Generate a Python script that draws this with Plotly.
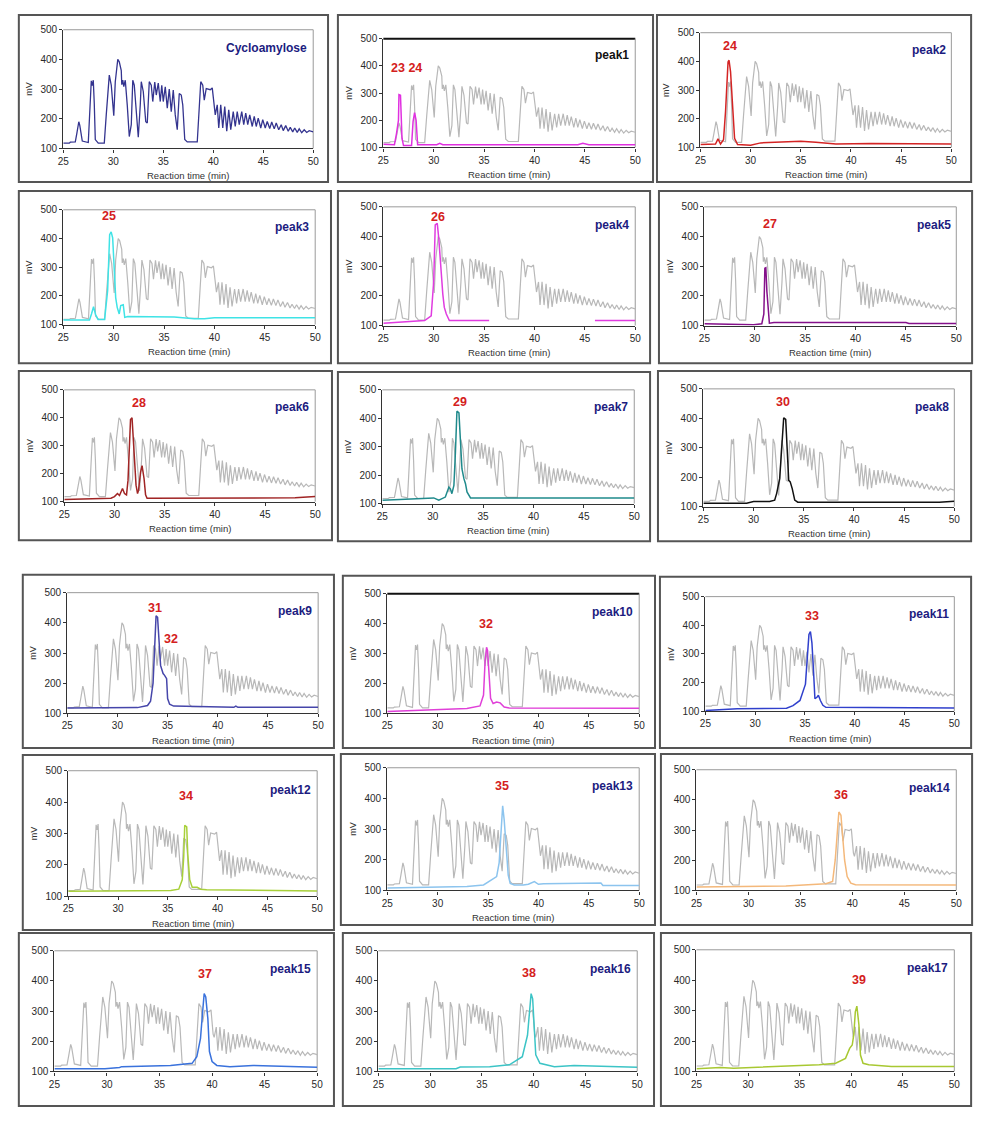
import plotly.graph_objects as go

# ---------------- data ----------------
X_TICKS = [25, 30, 35, 40, 45, 50]
Y_TICKS = [100, 200, 300, 400, 500]

PANEL_NAMES = ["Cycloamylose", "peak1", "peak2", "peak3", "peak4", "peak5",
               "peak6", "peak7", "peak8", "peak9", "peak10", "peak11",
               "peak12", "peak13", "peak14", "peak15", "peak16", "peak17"]

# Cycloamylose chromatogram (reaction time, mV)
BASE_T = [25.0, 25.6, 25.7, 26.2, 26.35, 26.55, 26.65, 26.75, 26.9, 27.5,
          27.65, 27.8, 27.9, 28.0, 28.1, 28.2, 28.5, 29.1, 29.3, 29.6,
          29.8, 30.05, 30.2, 30.45, 30.6, 30.8, 30.85, 30.95, 31.05, 31.2,
          31.4, 31.6, 31.8, 31.95, 32.1, 32.3, 32.5, 32.7, 32.8, 33.0,
          33.25, 33.4, 33.6, 33.8, 33.95, 34.15, 34.3, 34.5, 34.7, 34.85,
          35.0, 35.2, 35.4, 35.6, 35.8, 36.0, 36.2, 36.4, 36.6, 36.8,
          36.95, 37.15, 37.4, 38.4, 38.55, 38.75, 38.95, 39.1, 39.3, 39.7,
          39.9, 40.1, 40.2, 40.4, 40.55, 40.75, 40.95, 41.15, 41.35, 41.55,
          41.75, 42.0, 42.2, 42.4, 42.6, 42.85, 43.05, 43.25, 43.45, 43.65,
          43.9, 44.1, 44.3, 44.5, 44.75, 44.95, 45.2, 45.4, 45.65, 45.85,
          46.1, 46.3, 46.55, 46.8, 47.0, 47.25, 47.5, 47.7, 47.95, 48.15,
          48.4, 48.6, 48.85, 49.1, 49.35, 49.6, 50.0]
BASE_MV = [118, 118, 121, 122, 150, 190, 178, 160, 125, 120,
           250, 328, 312, 330, 250, 130, 118, 118, 215, 347,
           313, 210, 325, 400, 392, 362, 315, 330, 308, 330,
           245, 140, 180, 330, 313, 222, 138, 247, 325, 292,
           190, 186, 325, 313, 258, 324, 280, 320, 258, 313,
           258, 308, 236, 300, 224, 297, 213, 163, 285, 280,
           247, 130, 122, 122, 213, 325, 313, 263, 302, 298,
           304, 224, 213, 247, 169, 247, 169, 241, 158, 230,
           163, 224, 174, 224, 180, 224, 180, 219, 180, 213,
           174, 208, 174, 202, 169, 197, 169, 191, 167, 189,
           166, 186, 163, 180, 160, 177, 158, 171, 156, 169,
           154, 166, 153, 163, 154, 160, 156]

P1_T = [25.0, 26.1, 26.3, 26.4, 26.5, 26.55, 26.7, 26.85, 27.0, 27.8, 27.95, 28.1, 28.25, 28.4, 30.3, 30.6, 30.9, 44.3, 44.8, 45.4, 50.0]
P1_MV = [112, 110, 150, 170, 200, 294, 292, 134, 107, 107, 195, 228, 200, 110, 110, 115, 110, 110, 115, 110, 110]
P2_T = [25.0, 26.5, 26.75, 27.0, 27.3, 27.5, 27.75, 27.85, 28.0, 28.2, 28.4, 28.7, 30.0, 31.0, 33.0, 35.0, 36.5, 37.5, 38.5, 42.0, 50.0]
P2_MV = [110, 112, 130, 112, 127, 225, 398, 404, 364, 248, 132, 110, 108, 116, 118, 122, 118, 115, 112, 114, 112]
P3_T = [25.0, 27.6, 27.8, 28.0, 28.2, 28.45, 29.1, 29.4, 29.6, 29.75, 29.9, 30.1, 30.2, 30.35, 30.55, 30.7, 30.95, 31.1, 31.4, 36.0, 38.0, 39.0, 40.0, 50.0]
P3_MV = [116, 116, 137, 162, 135, 118, 118, 218, 413, 423, 402, 290, 194, 160, 137, 166, 169, 125, 128, 126, 120, 120, 124, 124]
P4_T = [25.0, 29.1, 29.75, 30.0, 30.15, 30.35, 30.5, 30.65, 30.9, 31.05, 31.25, 31.55, 32.5, 35.5, None, 46.0, 50.0]
P4_MV = [108, 117, 133, 250, 439, 444, 394, 317, 206, 161, 139, 117, 117, 117, None, 117, 117]
P5_T = [25.0, 29.9, 30.7, 30.9, 31.0, 31.1, 31.2, 31.35, 31.45, 31.9, 45.0, 45.3, 50.0]
P5_MV = [106, 103, 106, 139, 293, 295, 216, 139, 108, 110, 110, 107, 107]
P6_T = [25.0, 29.65, 30.0, 30.3, 30.5, 30.8, 31.0, 31.2, 31.35, 31.45, 31.6, 31.75, 31.9, 32.0, 32.15, 32.3, 32.4, 32.6, 32.75, 32.95, 33.1, 33.25, 48.0, 50.0]
P6_MV = [108, 112, 118, 129, 122, 147, 129, 124, 176, 253, 394, 400, 300, 218, 159, 129, 141, 206, 229, 182, 124, 112, 114, 118]
P7_T = [25.0, 29.5, 30.1, 30.6, 31.25, 31.6, 31.75, 31.9, 32.1, 32.25, 32.4, 32.6, 32.75, 32.9, 33.1, 33.25, 33.4, 33.75, 50.0]
P7_MV = [112, 117, 120, 112, 123, 158, 152, 135, 164, 280, 425, 419, 326, 222, 187, 170, 141, 120, 120]
P8_T = [25.0, 29.3, 30.0, 31.6, 32.1, 32.3, 32.6, 32.8, 33.0, 33.2, 33.35, 33.5, 33.65, 33.85, 34.1, 34.4, 48.5, 50.0]
P8_MV = [111, 111, 117, 117, 122, 145, 195, 307, 402, 396, 284, 189, 184, 161, 122, 115, 115, 118]
P9_T = [25.0, 32.0, 33.0, 33.3, 33.55, 33.7, 33.85, 34.0, 34.15, 34.3, 34.4, 34.55, 34.7, 34.9, 35.0, 35.2, 35.6, 41.6, 41.8, 42.0, 50.0]
P9_MV = [118, 119, 126, 140, 200, 325, 423, 418, 325, 259, 248, 232, 226, 215, 149, 130, 124, 120, 124, 120, 120]
P10_T = [25.0, 29.65, 32.9, 34.2, 34.55, 34.7, 34.85, 34.95, 35.1, 35.25, 35.5, 35.85, 36.2, 36.6, 37.1, 50.0]
P10_MV = [106, 111, 116, 125, 161, 271, 321, 310, 216, 150, 133, 138, 135, 121, 118, 117]
P11_T = [25.0, 26.55, 28.2, 33.15, 33.8, 34.5, 34.8, 35.05, 35.2, 35.4, 35.55, 35.7, 35.85, 36.0, 36.2, 36.35, 36.55, 36.8, 37.1, 50.0]
P11_MV = [103, 107, 109, 111, 120, 138, 167, 195, 270, 368, 378, 339, 247, 144, 149, 156, 138, 121, 114, 112]
P12_T = [25.0, 35.3, 36.1, 36.45, 36.6, 36.7, 36.9, 37.0, 37.2, 37.45, 37.95, 38.3, 38.9, 50.0]
P12_MV = [116, 119, 123, 153, 226, 326, 321, 237, 153, 129, 129, 123, 121, 117]
P13_T = [25.0, 29.65, 32.9, 34.55, 35.85, 36.1, 36.3, 36.45, 36.6, 36.8, 37.0, 37.2, 37.6, 38.5, 39.0, 39.6, 40.0, 40.5, 46.2, 46.4, 50.0]
P13_MV = [108, 110, 113, 118, 145, 190, 320, 376, 330, 250, 150, 123, 118, 118, 120, 129, 120, 122, 124, 116, 116]
P14_T = [25.0, 33.6, 37.45, 38.1, 38.35, 38.55, 38.7, 38.9, 39.05, 39.25, 39.5, 39.85, 40.3, 50.0]
P14_MV = [111, 115, 122, 130, 201, 310, 360, 349, 289, 201, 146, 124, 119, 118]
P15_T = [25.0, 29.8, 31.2, 31.4, 36.05, 37.3, 38.1, 38.55, 38.9, 39.1, 39.25, 39.4, 39.6, 39.75, 40.0, 40.45, 41.7, 43.9, 47.65, 50.0]
P15_MV = [109, 109, 113, 116, 120, 124, 127, 149, 210, 297, 358, 347, 275, 166, 133, 120, 116, 120, 116, 114]
P16_T = [25.0, 32.5, 32.9, 35.75, 37.65, 38.9, 39.4, 39.6, 39.75, 39.9, 40.05, 40.2, 40.6, 42.0, 43.9, 48.3, 50.0]
P16_MV = [109, 109, 115, 116, 122, 149, 220, 319, 358, 341, 242, 155, 127, 116, 120, 116, 114]
P17_T = [25.0, 27.3, 28.6, 30.5, 33.7, 36.9, 38.5, 39.45, 39.85, 40.1, 40.25, 40.4, 40.55, 40.75, 40.9, 41.15, 41.7, 43.9, 50.0]
P17_MV = [109, 113, 111, 114, 117, 122, 127, 143, 176, 187, 220, 296, 315, 253, 154, 127, 122, 116, 116]

SERIES_T = [BASE_T, P1_T, P2_T, P3_T, P4_T, P5_T, P6_T, P7_T, P8_T, P9_T,
            P10_T, P11_T, P12_T, P13_T, P14_T, P15_T, P16_T, P17_T]
SERIES_MV = [BASE_MV, P1_MV, P2_MV, P3_MV, P4_MV, P5_MV, P6_MV, P7_MV, P8_MV, P9_MV,
             P10_MV, P11_MV, P12_MV, P13_MV, P14_MV, P15_MV, P16_MV, P17_MV]

# DP labels (text, reaction time, mV) per panel
DP_TEXT = [[], ["23 24"], ["24"], ["25"], ["26"], ["27"], ["28"], ["29"], ["30"],
           ["31", "32"], ["32"], ["33"], ["34"], ["35"], ["36"], ["37"], ["38"], ["39"]]
DP_T = [[], [27.25], [27.95], [29.5], [30.45], [31.5], [32.45], [32.7], [32.9],
        [33.75, 35.3], [34.75], [35.7], [36.8], [36.35], [38.9], [39.35], [39.5], [40.75]]
DP_MV = [[], [391], [455], [477], [467], [441], [453], [459], [454],
         [448, 347], [400], [433], [421], [441], [415], [423], [425], [401]]

# ---------------- styles / layout ----------------
COLORS = ["#34348f", "#e030e0", "#d42424", "#3fe3e6", "#e03ce0", "#84108a",
          "#a02424", "#1f8a8c", "#111111", "#4646aa", "#e040d8", "#3040cc",
          "#a8d03a", "#8cc4ee", "#f4b87a", "#3a72dc", "#3cc4c6", "#a8c832"]
TITLE_COLORS = ["#1c1c80", "#111111"] + ["#1c1c80"] * 16

# frames (left, top, right, bottom) in px
FRAMES = [(13, 9, 326, 178), (336, 9, 655, 178), (659, 9, 977, 178),
          (13, 187, 329, 361), (336, 187, 652, 361), (661, 187, 978, 361),
          (13, 369, 330, 540), (336, 370, 652, 541), (660, 369, 977, 541),
          (17, 575, 332, 750), (341, 576, 657, 750), (662, 577, 977, 750),
          (17, 757, 332, 934), (339, 756, 657, 929), (663, 756, 978, 929),
          (13, 937, 332, 1112), (341, 937, 656, 1112), (663, 937, 977, 1112)]
# plot areas (left, top, right, bottom) in px
AREAS = [(58, 24, 311, 144), (382, 33, 637, 143), (703, 27, 957, 143),
         (58, 206, 313, 322), (382, 203, 637, 323), (707, 203, 962, 323),
         (59, 388, 313, 501), (381, 388, 636, 503), (706, 387, 960, 506),
         (62, 593, 316, 715), (386, 594, 641, 715), (708, 597, 960, 713),
         (63, 773, 315, 900), (386, 770, 641, 894), (699, 772, 962, 894),
         (49, 955, 315, 1077), (377, 955, 639, 1077), (699, 954, 960, 1077)]
HAS_AXIS_TITLES = [True] * 14 + [False] * 4
BLACK_TOP = {1, 10}

W, H = 986, 1122
FONT = "Liberation Sans, Arial, sans-serif"

fig = go.Figure()
shapes = []
annotations = []
layout_axes = {}

for i in range(18):
    n = i + 1
    xref = "x" if n == 1 else f"x{n}"
    yref = "y" if n == 1 else f"y{n}"
    l, t, r, b = AREAS[i]
    if i > 0:
        fig.add_trace(go.Scatter(x=BASE_T, y=BASE_MV, mode="lines", xaxis=xref, yaxis=yref,
                                 line=dict(color="#b8b8b8", width=1.2), hoverinfo="skip"))
    fig.add_trace(go.Scatter(x=SERIES_T[i], y=SERIES_MV[i], mode="lines", xaxis=xref, yaxis=yref,
                             connectgaps=False,
                             line=dict(color=COLORS[i], width=1.5 if i > 0 else 1.3)))
    ax_common = dict(showline=True, linecolor="#333333", linewidth=1.2, mirror=False,
                     showgrid=False, zeroline=False, ticks="outside", ticklen=3,
                     tickcolor="#333333", tickfont=dict(size=10, color="#2a2a2a", family=FONT))
    layout_axes[f"xaxis{'' if n == 1 else n}"] = dict(
        domain=[l / W, r / W], range=[25, 50], tickvals=X_TICKS, anchor=yref, **ax_common)
    layout_axes[f"yaxis{'' if n == 1 else n}"] = dict(
        domain=[1 - b / H, 1 - t / H], range=[100, 500], tickvals=Y_TICKS, anchor=xref, **ax_common)

    # frame
    fl, ft, fr, fb = FRAMES[i]
    shapes.append(dict(type="rect", xref="paper", yref="paper", x0=fl / W, x1=fr / W,
                       y0=1 - fb / H, y1=1 - ft / H, line=dict(color="#555555", width=2),
                       layer="below"))
    # plot area top & right edges
    top_col = "#111111" if i in BLACK_TOP else "#9a9a9a"
    top_w = 2 if i in BLACK_TOP else 1
    shapes.append(dict(type="line", xref=f"{xref} domain", yref=f"{yref} domain",
                       x0=0, x1=1, y0=1, y1=1, line=dict(color=top_col, width=top_w), layer="below"))
    shapes.append(dict(type="line", xref=f"{xref} domain", yref=f"{yref} domain",
                       x0=1, x1=1, y0=0, y1=1, line=dict(color="#9a9a9a", width=1), layer="below"))

    # panel title
    annotations.append(dict(text=f"<b>{PANEL_NAMES[i]}</b>", xref=f"{xref} domain", yref=f"{yref} domain",
                            x=0.985, y=0.85, xanchor="right", yanchor="middle", showarrow=False,
                            font=dict(size=12, color=TITLE_COLORS[i], family=FONT)))
    # DP labels
    for txt, tx, ty in zip(DP_TEXT[i], DP_T[i], DP_MV[i]):
        annotations.append(dict(text=f"<b>{txt}</b>", xref=xref, yref=yref, x=tx, y=ty,
                                xanchor="center", yanchor="middle", showarrow=False,
                                font=dict(size=12.5, color="#d42020", family=FONT)))
    # axis titles
    if HAS_AXIS_TITLES[i]:
        annotations.append(dict(text="mV", xref="paper", yref="paper", x=(l - 35) / W,
                                y=1 - (t + b) / 2 / H, xanchor="center", yanchor="middle",
                                textangle=-90, showarrow=False,
                                font=dict(size=9, color="#333333", family=FONT)))
        annotations.append(dict(text="Reaction time (min)", xref="paper", yref="paper",
                                x=(l + r) / 2 / W, y=1 - (b + 27) / H, xanchor="center",
                                yanchor="middle", showarrow=False,
                                font=dict(size=9.5, color="#333333", family=FONT)))

fig.update_layout(width=W, height=H, margin=dict(l=0, r=0, t=0, b=0), autosize=False,
                  showlegend=False, paper_bgcolor="white", plot_bgcolor="rgba(0,0,0,0)",
                  font=dict(family=FONT), shapes=shapes, annotations=annotations, **layout_axes)

fig.write_html("out.html", config={"displayModeBar": False},
               post_script="document.body.style.margin='0px';")
